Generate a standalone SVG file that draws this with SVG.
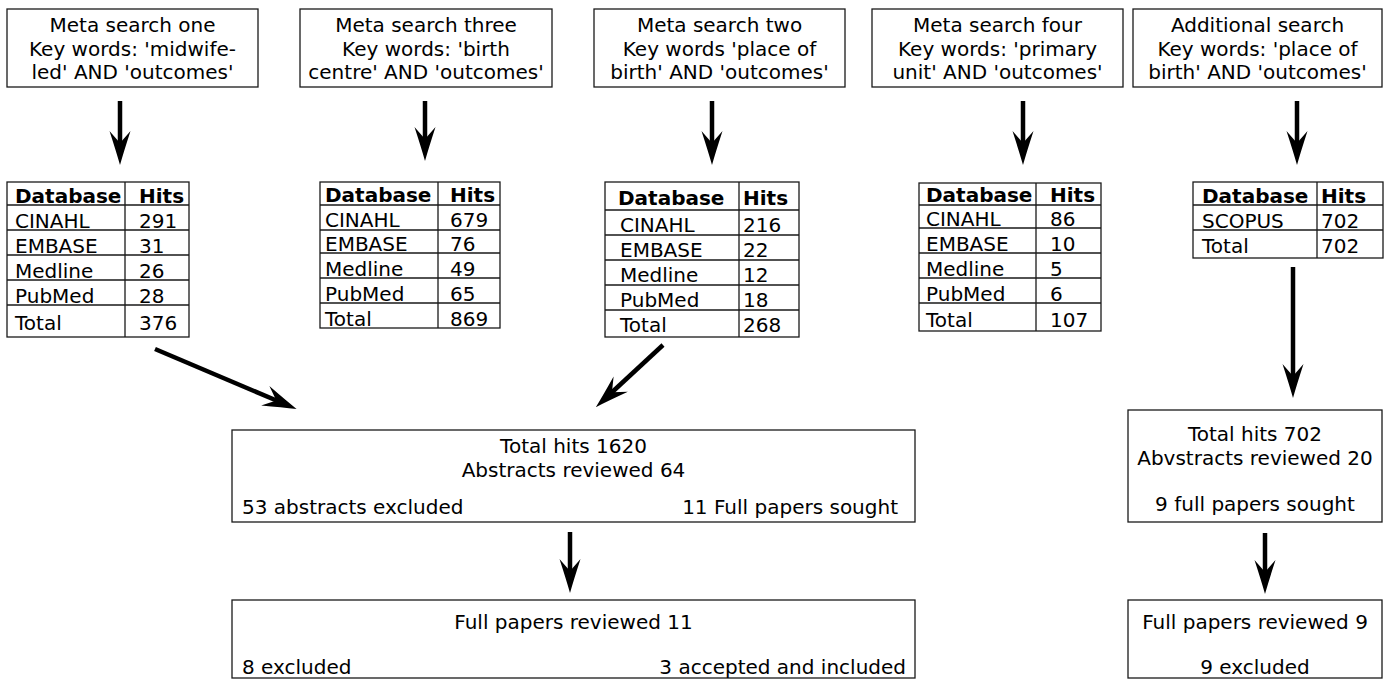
<svg xmlns="http://www.w3.org/2000/svg" width="1389" height="680" viewBox="0 0 1389 680">
  <style>
    .box { fill: #ffffff; stroke: #1a1a1a; stroke-width: 1.3; }
    .grid { stroke: #1a1a1a; stroke-width: 1.3; fill: none; }
    text { font-family: "DejaVu Sans", Verdana, sans-serif; font-size: 20px; fill: #000000; }
    .c { text-anchor: middle; }
    .r { text-anchor: end; }
    .b { font-weight: bold; }
    .arrow { stroke: #000000; stroke-width: 4.5; fill: none; marker-end: url(#head); }
  </style>
  <defs>
    <!-- slender notched arrowhead with slightly concave flanks -->
    <marker id="head" markerUnits="userSpaceOnUse" viewBox="0 0 34 22" markerWidth="34" markerHeight="22" refX="16" refY="11" orient="auto">
      <path d="M0,0.5 Q20,7 34,11 Q20,15 0,21.5 L12,11 Z" fill="#000000"/>
    </marker>
  </defs>

  <rect width="1389" height="680" fill="#ffffff"/>

  <!-- search query boxes -->
  <g id="search-one">
    <rect class="box" x="7" y="9" width="251" height="78"/>
    <text class="c" x="132.5" y="32">Meta search one</text>
    <text class="c" x="132.5" y="55.5">Key words: 'midwife-</text>
    <text class="c" x="132.5" y="79">led' AND 'outcomes'</text>
  </g>
  <g id="search-three">
    <rect class="box" x="300" y="9" width="252" height="78"/>
    <text class="c" x="426" y="32">Meta search three</text>
    <text class="c" x="426" y="55.5">Key words: 'birth</text>
    <text class="c" x="426" y="79">centre' AND 'outcomes'</text>
  </g>
  <g id="search-two">
    <rect class="box" x="594" y="9" width="251" height="78"/>
    <text class="c" x="719.5" y="32">Meta search two</text>
    <text class="c" x="719.5" y="55.5">Key words 'place of</text>
    <text class="c" x="719.5" y="79">birth' AND 'outcomes'</text>
  </g>
  <g id="search-four">
    <rect class="box" x="872" y="9" width="251" height="78"/>
    <text class="c" x="997.5" y="32">Meta search four</text>
    <text class="c" x="997.5" y="55.5">Key words: 'primary</text>
    <text class="c" x="997.5" y="79">unit' AND 'outcomes'</text>
  </g>
  <g id="search-additional">
    <rect class="box" x="1133" y="9" width="249" height="78"/>
    <text class="c" x="1257.5" y="32">Additional search</text>
    <text class="c" x="1257.5" y="55.5">Key words: 'place of</text>
    <text class="c" x="1257.5" y="79">birth' AND 'outcomes'</text>
  </g>

  <!-- hit tables -->
  <g id="table-one">
    <rect class="box" x="7" y="182" width="182" height="155"/>
    <path class="grid" d="M125,182 V337 M7,205 H189 M7,230 H189 M7,255 H189 M7,280 H189 M7,305 H189"/>
    <text class="b" x="15" y="203">Database</text><text class="b" x="139" y="203">Hits</text>
    <text x="15" y="228">CINAHL</text><text x="139" y="228">291</text>
    <text x="15" y="253">EMBASE</text><text x="139" y="253">31</text>
    <text x="15" y="278">Medline</text><text x="139" y="278">26</text>
    <text x="15" y="303">PubMed</text><text x="139" y="303">28</text>
    <text x="15" y="330">Total</text><text x="139" y="330">376</text>
  </g>
  <g id="table-three">
    <rect class="box" x="320" y="182" width="180" height="146"/>
    <path class="grid" d="M438,182 V328 M320,205 H500 M320,230 H500 M320,253 H500 M320,278 H500 M320,303 H500"/>
    <text class="b" x="325" y="202">Database</text><text class="b" x="450" y="202">Hits</text>
    <text x="325" y="227">CINAHL</text><text x="450" y="227">679</text>
    <text x="325" y="251">EMBASE</text><text x="450" y="251">76</text>
    <text x="325" y="276">Medline</text><text x="450" y="276">49</text>
    <text x="325" y="301">PubMed</text><text x="450" y="301">65</text>
    <text x="325" y="326">Total</text><text x="450" y="326">869</text>
  </g>
  <g id="table-two">
    <rect class="box" x="605" y="182" width="194" height="155"/>
    <path class="grid" d="M739,182 V337 M605,210 H799 M605,235 H799 M605,260 H799 M605,285 H799 M605,310 H799"/>
    <text class="b" x="618" y="205">Database</text><text class="b" x="743" y="205">Hits</text>
    <text x="620" y="232">CINAHL</text><text x="743" y="232">216</text>
    <text x="620" y="257">EMBASE</text><text x="743" y="257">22</text>
    <text x="620" y="282">Medline</text><text x="743" y="282">12</text>
    <text x="620" y="307">PubMed</text><text x="743" y="307">18</text>
    <text x="620" y="332">Total</text><text x="743" y="332">268</text>
  </g>
  <g id="table-four">
    <rect class="box" x="919" y="183" width="182" height="148"/>
    <path class="grid" d="M1036,183 V331 M919,205 H1101 M919,228 H1101 M919,253 H1101 M919,278 H1101 M919,303 H1101"/>
    <text class="b" x="926" y="202">Database</text><text class="b" x="1050" y="202">Hits</text>
    <text x="926" y="226">CINAHL</text><text x="1050" y="226">86</text>
    <text x="926" y="251">EMBASE</text><text x="1050" y="251">10</text>
    <text x="926" y="276">Medline</text><text x="1050" y="276">5</text>
    <text x="926" y="301">PubMed</text><text x="1050" y="301">6</text>
    <text x="926" y="327">Total</text><text x="1050" y="327">107</text>
  </g>
  <g id="table-additional">
    <rect class="box" x="1193" y="182" width="190" height="76"/>
    <path class="grid" d="M1317,182 V258 M1193,205 H1383 M1193,230 H1383"/>
    <text class="b" x="1202" y="203">Database</text><text class="b" x="1321" y="203">Hits</text>
    <text x="1202" y="228">SCOPUS</text><text x="1321" y="228">702</text>
    <text x="1202" y="253">Total</text><text x="1321" y="253">702</text>
  </g>

  <!-- screening stages -->
  <g id="abstract-screen">
    <rect class="box" x="232" y="430" width="683" height="92"/>
    <text class="c" x="573.5" y="453">Total hits 1620</text>
    <text class="c" x="573.5" y="477">Abstracts reviewed 64</text>
    <text x="242" y="514">53 abstracts excluded</text>
    <text class="r" x="898" y="514">11 Full papers sought</text>
  </g>
  <g id="fulltext-screen">
    <rect class="box" x="232" y="600" width="683" height="78"/>
    <text class="c" x="573.5" y="629">Full papers reviewed 11</text>
    <text x="242" y="674">8 excluded</text>
    <text class="r" x="906" y="674">3 accepted and included</text>
  </g>
  <g id="additional-abstract-screen">
    <rect class="box" x="1128" y="410" width="254" height="112"/>
    <text class="c" x="1255" y="441">Total hits 702</text>
    <text class="c" x="1255" y="465">Abvstracts reviewed 20</text>
    <text class="c" x="1255" y="511">9 full papers sought</text>
  </g>
  <g id="additional-fulltext-screen">
    <rect class="box" x="1128" y="600" width="254" height="78"/>
    <text class="c" x="1255" y="629">Full papers reviewed 9</text>
    <text class="c" x="1255" y="674">9 excluded</text>
  </g>

  <!-- connectors -->
  <g id="connectors">
    <line class="arrow" x1="120" y1="101" x2="120" y2="147"/>
    <line class="arrow" x1="425" y1="101" x2="425" y2="143"/>
    <line class="arrow" x1="712" y1="101" x2="712" y2="147"/>
    <line class="arrow" x1="1023" y1="101" x2="1023" y2="147"/>
    <line class="arrow" x1="1297" y1="101" x2="1297" y2="147"/>
    <line class="arrow" x1="1293" y1="267" x2="1293" y2="380"/>
    <line class="arrow" x1="155" y1="349" x2="280" y2="402"/>
    <line class="arrow" x1="663" y1="345" x2="609" y2="395"/>
    <line class="arrow" x1="570" y1="532" x2="570" y2="575"/>
    <line class="arrow" x1="1265" y1="533" x2="1265" y2="576"/>
  </g>
</svg>
